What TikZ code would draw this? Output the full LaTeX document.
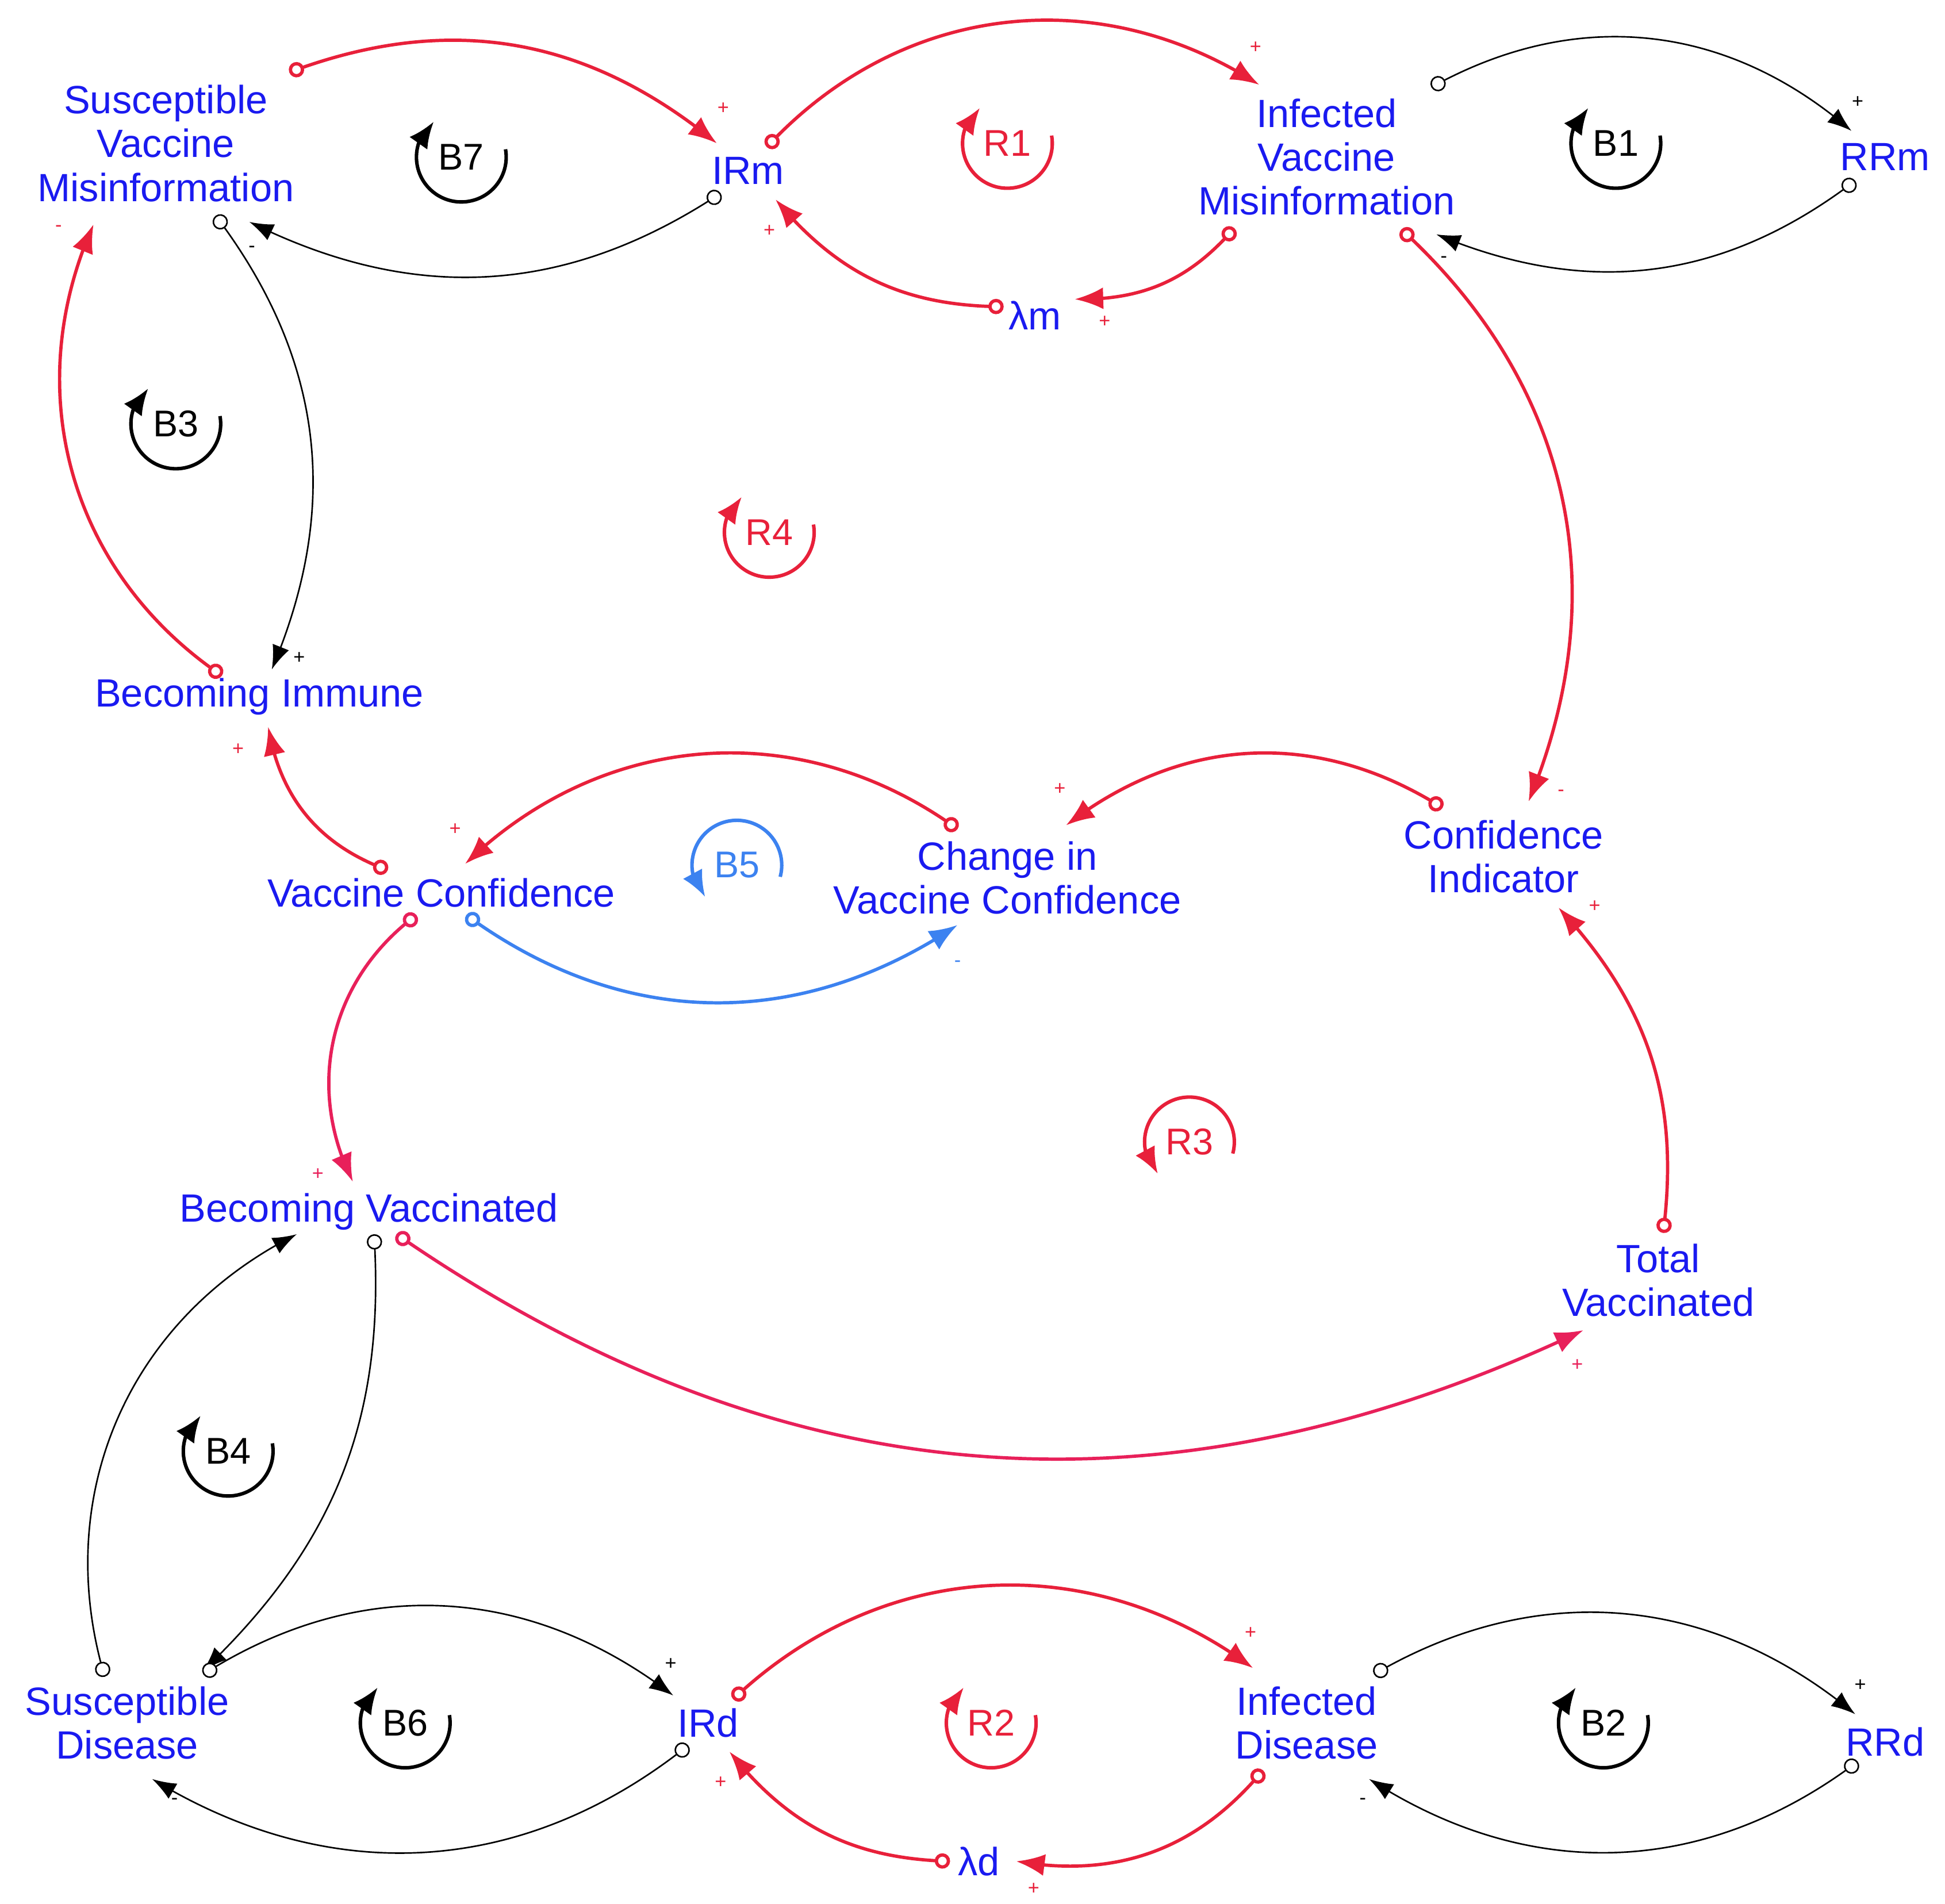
\documentclass[tikz,border=0pt]{standalone}
\usepackage{fontspec}
\setmainfont{Liberation Sans}
\usetikzlibrary{arrows.meta,bending}
\definecolor{rd}{HTML}{E8203A}
\definecolor{pk}{HTML}{E8205A}
\definecolor{tb}{HTML}{1A1AF0}
\definecolor{lb}{HTML}{3C82F0}
\begin{document}
\begin{tikzpicture}[x=0.02cm,y=-0.02cm,
  v/.style={font=\fontsize{18}{20}\selectfont,text=tb,align=center,inner sep=0pt},
  lpt/.style={font=\fontsize{17}{18}\selectfont,inner sep=0pt},
  rl/.style={draw=rd,line width=1.5pt,{Circle[open,length=7pt,width=7pt,fill=white]}-{Latex[length=13pt,width=10pt]}},
  pl/.style={rl,draw=pk},
  bl/.style={draw=black,line width=0.7pt,{Circle[open,length=7pt,width=7pt,fill=white,line width=0.7pt]}-{Latex[length=11pt,width=8pt]}},
  ul/.style={rl,draw=lb},
  sg/.style={font=\fontsize{9}{9}\selectfont,inner sep=0pt}]
\useasboundingbox (0,0) rectangle (1560,1527);
% variables
\node[v] (svm) at (133,115) {Susceptible\\Vaccine\\Misinformation};
\node[v] (irm) at (600,137) {IRm};
\node[v] (ivm) at (1064,126) {Infected\\Vaccine\\Misinformation};
\node[v] (rrm) at (1512,126) {RRm};
\node[v] (lm) at (830,253) {λm};
\node[v] (bi) at (208,559) {Becoming Immune};
\node[v] (vc) at (354,716) {Vaccine Confidence};
\node[v] (cvc) at (808,704) {Change in\\Vaccine Confidence};
\node[v] (ci) at (1206,687) {Confidence\\Indicator};
\node[v] (bv) at (296,972) {Becoming Vaccinated};
\node[v] (tv) at (1330,1027) {Total\\Vaccinated};
\node[v] (sd) at (102,1382) {Susceptible\\Disease};
\node[v] (ird) at (568,1382) {IRd};
\node[v] (id) at (1048,1382) {Infected\\Disease};
\node[v] (rrd) at (1512,1397) {RRd};
\node[v] (ld) at (785,1493) {λd};
% attachment points
\coordinate (a1) at (232,58); \coordinate (h1) at (575,115);
\coordinate (a2) at (578,155); \coordinate (h2) at (200,178);
\coordinate (a3) at (615,118); \coordinate (h3) at (1010,68);
\coordinate (a4) at (990,183); \coordinate (h4) at (862,240);
\coordinate (a5) at (805,246); \coordinate (h5) at (622,160);
\coordinate (a6) at (1148,70); \coordinate (h6) at (1485,105);
\coordinate (a7) at (1488,145); \coordinate (h7) at (1152,188);
\coordinate (a8) at (173,173); \coordinate (h8) at (218,537);
\coordinate (a9) at (178,542); \coordinate (h9) at (75,180);
\coordinate (a10) at (1124,184); \coordinate (h10) at (1226,643);
\coordinate (a11) at (311,698); \coordinate (h11) at (215,583);
\coordinate (a12) at (768,665); \coordinate (h12) at (373,693);
\coordinate (a13) at (374,734); \coordinate (h13) at (768,742);
\coordinate (a14) at (1157,648); \coordinate (h14) at (855,662);
\coordinate (a15) at (334,734); \coordinate (h15) at (283,948);
\coordinate (a16) at (1334,989); \coordinate (h16) at (1250,728);
\coordinate (a17) at (318,990); \coordinate (h17) at (1270,1067);
\coordinate (a18) at (300,990); \coordinate (h18) at (163,1340);
\coordinate (a19) at (84,1345); \coordinate (h19) at (238,990);
\coordinate (a20) at (163,1343); \coordinate (h20) at (540,1360);
\coordinate (a21) at (552,1400); \coordinate (h21) at (122,1427);
\coordinate (a22) at (588,1363); \coordinate (h22) at (1005,1338);
\coordinate (a23) at (1013,1420); \coordinate (h23) at (815,1493);
\coordinate (a24) at (762,1493); \coordinate (h24) at (585,1405);
\coordinate (a25) at (1102,1343); \coordinate (h25) at (1488,1375);
\coordinate (a26) at (1490,1413); \coordinate (h26) at (1098,1427);
% connectors
\draw[rl] (a1) to[bend left=30] (h1);
\draw[bl] (a2) to[bend left=30] (h2);
\draw[rl] (a3) to[bend left=40] (h3);
\draw[rl] (a4) to[bend left=25] (h4);
\draw[rl] (a5) to[bend left=25] (h5);
\draw[bl] (a6) to[bend left=35] (h6);
\draw[bl] (a7) to[bend left=30] (h7);
\draw[bl] (a8) to[bend left=30] (h8);
\draw[rl] (a9) to[bend left=40] (h9);
\draw[rl] (a10) to[bend left=35] (h10);
\draw[rl] (a11) to[bend left=30] (h11);
\draw[rl] (a12) to[bend right=40] (h12);
\draw[ul] (a13) to[bend right=35] (h13);
\draw[rl] (a14) to[bend right=35] (h14);
\draw[pl] (a15) to[bend right=40] (h15);
\draw[rl] (a16) to[bend right=25] (h16);
\draw[pl] (a17) to[bend right=30] (h17);
\draw[bl] (a18) to[bend left=25] (h18);
\draw[bl] (a19) to[bend left=40] (h19);
\draw[bl] (a20) to[bend left=35] (h20);
\draw[bl] (a21) to[bend left=35] (h21);
\draw[rl] (a22) to[bend left=40] (h22);
\draw[rl] (a23) to[bend left=30] (h23);
\draw[rl] (a24) to[bend left=25] (h24);
\draw[bl] (a25) to[bend left=35] (h25);
\draw[bl] (a26) to[bend left=35] (h26);
% signs
\foreach \p/\s/\c in {{(580,87)}/+/rd,{(202,200)}/-/black,{(1007,38)}/+/rd,{(886,258)}/+/rd,{(617,185)}/+/rd,
 {(1490,82)}/+/black,{(1158,208)}/-/black,{(240,528)}/+/black,{(47,183)}/-/rd,{(1252,636)}/-/rd,
 {(191,601)}/+/rd,{(365,665)}/+/rd,{(768,773)}/-/lb,{(850,633)}/+/rd,{(255,942)}/+/pk,
 {(1279,727)}/+/rd,{(1265,1095)}/+/pk,{(538,1335)}/+/black,{(140,1445)}/-/black,{(1003,1310)}/+/rd,
 {(829,1515)}/+/rd,{(578,1430)}/+/rd,{(1492,1352)}/+/black,{(1093,1445)}/-/black}
 {\node[sg,text=\c] at \p {\s};}
% loop markers
\foreach \n/\p/\c in {B7/{(370,126)}/black,R1/{(808,115)}/rd,B1/{(1296,115)}/black,
 B3/{(141,340)}/black,R4/{(617,427)}/rd,B4/{(183,1164)}/black,B6/{(325,1382)}/black,
 R2/{(795,1382)}/rd,B2/{(1286,1382)}/black}
 {\node[lpt,text=\c] (L\n) at \p {\n};
  \draw[\c,line width=1.6pt,-{Latex[length=12pt,width=10pt,flex]}] ([shift={(10:0.72cm)}]L\n.center) arc[start angle=10,end angle=-232,radius=0.72cm];}
\foreach \n/\p/\c in {B5/{(591,694)}/lb,R3/{(954,916)}/rd}
 {\node[lpt,text=\c] (L\n) at \p {\n};
  \draw[\c,line width=1.6pt,-{Latex[length=12pt,width=10pt,flex]}] ([shift={(-15:0.72cm)}]L\n.center) arc[start angle=-15,end angle=225,radius=0.72cm];}
\end{tikzpicture}
\end{document}
